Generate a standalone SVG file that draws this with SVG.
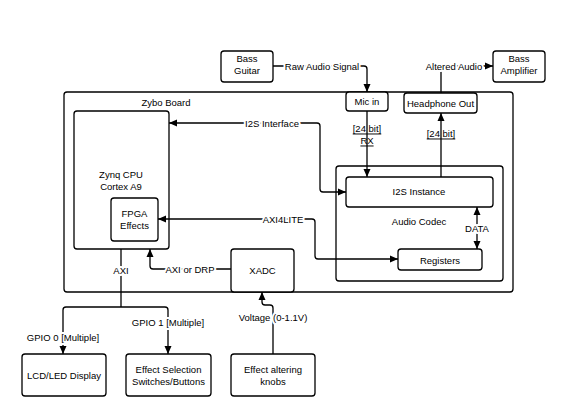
<svg xmlns="http://www.w3.org/2000/svg" width="573" height="412" viewBox="0 0 573 412">
<style>
.box{fill:#fff;stroke:#000;stroke-width:1.3}
.frame{fill:none;stroke:#000;stroke-width:1.3}
text{font-family:"Liberation Sans",Arial,sans-serif;font-size:9.5px;fill:#000;text-anchor:middle;dominant-baseline:central}
.lbl{stroke:#fff;stroke-width:4;paint-order:stroke;stroke-linejoin:round}
.u{text-decoration:underline}
.c{fill:none;stroke:#000;stroke-width:1.3}
</style>
<defs>
<marker id="a" markerUnits="userSpaceOnUse" markerWidth="9" markerHeight="8" refX="8" refY="4" orient="auto-start-reverse" viewBox="0 0 9 8">
<path d="M0,0.5 L8,4 L0,7.5 z" fill="#000"/>
</marker>
</defs>
<rect width="573" height="412" fill="#fff"/>

<g id="zybo-board">
<rect class="frame" x="64" y="92" width="449" height="200" rx="3"/>
<text x="166" y="102">Zybo Board</text>
</g>
<g id="bass-guitar">
<rect class="box" x="221" y="51" width="52" height="31" rx="3"/>
<text x="247" y="58">Bass</text><text x="247" y="70">Guitar</text>
</g>
<g id="bass-amplifier">
<rect class="box" x="493" y="51" width="52" height="31" rx="3"/>
<text x="519" y="58">Bass</text><text x="519" y="70">Amplifier</text>
</g>
<g id="mic-in">
<rect class="box" x="346" y="92" width="42" height="19" rx="3"/>
<text x="367" y="101">Mic in</text>
</g>
<g id="headphone-out">
<rect class="box" x="404" y="93" width="73" height="20" rx="3"/>
<text x="440.5" y="103">Headphone Out</text>
</g>
<g id="zynq-cpu">
<rect class="box" x="74" y="111" width="95" height="138" rx="3"/>
<text x="121" y="174">Zynq CPU</text><text x="121" y="186">Cortex A9</text>
</g>
<g id="fpga-effects">
<rect class="box" x="111" y="198" width="47" height="43" rx="3"/>
<text x="134.5" y="213">FPGA</text><text x="134.5" y="225">Effects</text>
</g>
<g id="audio-codec">
<rect class="box" x="336" y="166" width="167" height="115" rx="3"/>
<text x="419" y="221">Audio Codec</text>
</g>
<g id="i2s-instance">
<rect class="box" x="346" y="177" width="147" height="30" rx="3"/>
<text x="419" y="191">I2S Instance</text>
</g>
<g id="registers">
<rect class="box" x="398" y="249" width="84" height="21" rx="3"/>
<text x="440" y="260">Registers</text>
</g>
<g id="xadc">
<rect class="box" x="231" y="249" width="63" height="43" rx="3"/>
<text x="262.5" y="270">XADC</text>
</g>
<g id="lcd-led-display">
<rect class="box" x="22" y="354" width="84" height="42" rx="3"/>
<text x="64" y="375">LCD/LED Display</text>
</g>
<g id="effect-selection">
<rect class="box" x="126" y="354" width="85" height="42" rx="3"/>
<text x="168.5" y="369">Effect Selection</text><text x="168.5" y="381">Switches/Buttons</text>
</g>
<g id="effect-knobs">
<rect class="box" x="231" y="354" width="84" height="42" rx="3"/>
<text x="273" y="369">Effect altering</text><text x="273" y="381">knobs</text>
</g>

<g id="connectors">
<path class="c" d="M273,66 H364 Q367,66 367,69 V92" marker-end="url(#a)"/>
<path class="c" d="M441,93 V69 Q441,66 444,66 H493" marker-end="url(#a)"/>
<path class="c" d="M367,111 V177" marker-end="url(#a)"/>
<path class="c" d="M441,177 V113" marker-end="url(#a)"/>
<path class="c" d="M346,192 H323 Q320,192 320,189 V126 Q320,123 317,123 H169" marker-start="url(#a)" marker-end="url(#a)"/>
<path class="c" d="M158,219 H312 Q315,219 315,222 V256 Q315,259 318,259 H398" marker-start="url(#a)" marker-end="url(#a)"/>
<path class="c" d="M477,207 V249" marker-start="url(#a)" marker-end="url(#a)"/>
<path class="c" d="M231,269 H153 Q150,269 150,266 V249" marker-end="url(#a)"/>
<path class="c" d="M121,249 V307"/>
<path class="c" d="M63,354 V310 Q63,307 66,307 H165 Q168,307 168,310 V354" marker-start="url(#a)" marker-end="url(#a)"/>
<path class="c" d="M273,354 V308 Q273,305 270,305 H265 Q262,305 262,302 V292" marker-end="url(#a)"/>

<text class="lbl" x="322" y="66">Raw Audio Signal</text>
<text class="lbl" x="454" y="66">Altered Audio</text>
<text class="u" x="367" y="128">[24 bit]</text>
<text class="u" x="367" y="140">RX</text>
<text class="u" x="441" y="133">[24 bit]</text>
<text class="lbl" x="272" y="123">I2S Interface</text>
<text class="lbl" x="283" y="219">AXI4LITE</text>
<text class="lbl" x="477" y="228">DATA</text>
<text class="lbl" x="190" y="269">AXI or DRP</text>
<text class="lbl" x="121" y="270">AXI</text>
<text class="lbl" x="63" y="337">GPIO 0 [Multiple]</text>
<text class="lbl" x="168" y="322">GPIO 1 [Multiple]</text>
<text class="lbl" x="273" y="317">Voltage (0-1.1V)</text>
</g>
</svg>
